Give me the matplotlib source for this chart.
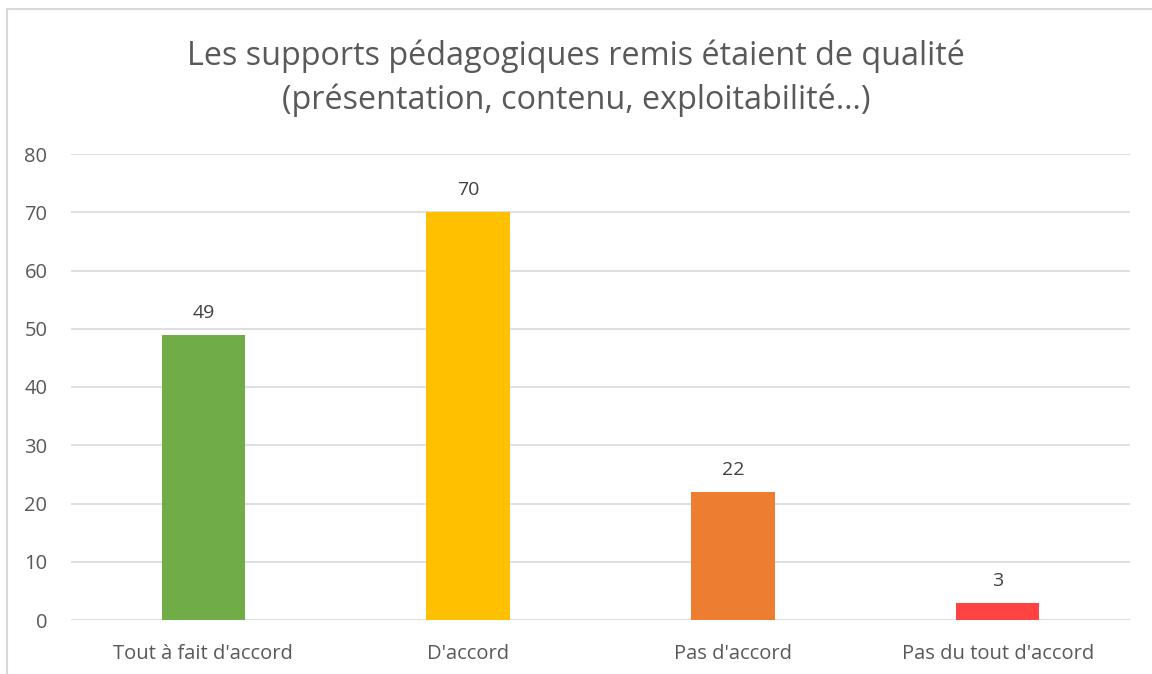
import matplotlib.pyplot as plt
from matplotlib.patches import Rectangle

categories = ["Tout à fait d'accord", "D'accord", "Pas d'accord", "Pas du tout d'accord"]
counts = [49, 70, 22, 3]
bar_colors = ["#70AD47", "#FFC000", "#ED7D31", "#FF4343"]
title = "Les supports pédagogiques remis étaient de qualité\n(présentation, contenu, exploitabilité…)"

plt.rcParams['font.family'] = ['Open Sans', 'DejaVu Sans']
text_color = "#595959"

W, H = 1152, 674
fig = plt.figure(figsize=(W / 100, H / 100), dpi=100)

# light gray chart frame (left and top edges visible)
fig.patches.append(Rectangle((7 / W, -0.1), 1.2, 1 - 9 / H + 0.1, transform=fig.transFigure,
                             fill=False, edgecolor="#D9D9D9", linewidth=1.5))

ax = fig.add_axes([71 / W, 1 - 620 / H, (1130 - 71) / W, (620 - 154) / H])
x = range(len(categories))
bars = ax.bar(x, counts, width=0.315, color=bar_colors, zorder=3)
for b, v in zip(bars, counts):
    ax.text(b.get_x() + b.get_width() / 2, v + 2.2, str(v), ha="center", va="bottom",
            fontsize=14, color="#404040")

ax.set_ylim(0, 80)
ax.set_xlim(-0.5, len(categories) - 0.5)
ax.set_yticks(range(0, 81, 10))
ax.set_xticks(list(x))
ax.set_xticklabels(categories)
ax.grid(axis="y", color="#D9D9D9", linewidth=1.2, zorder=0)
for s in ax.spines.values():
    s.set_visible(False)
ax.tick_params(axis="both", length=0, labelsize=14.5, colors=text_color)
ax.tick_params(axis="y", pad=17)
ax.tick_params(axis="x", pad=17)

fig.text(0.5, 1 - 78 / H, title, ha="center", va="center", fontsize=23.3,
         color=text_color, linespacing=1.4)

fig.savefig("out.png", dpi=100)
